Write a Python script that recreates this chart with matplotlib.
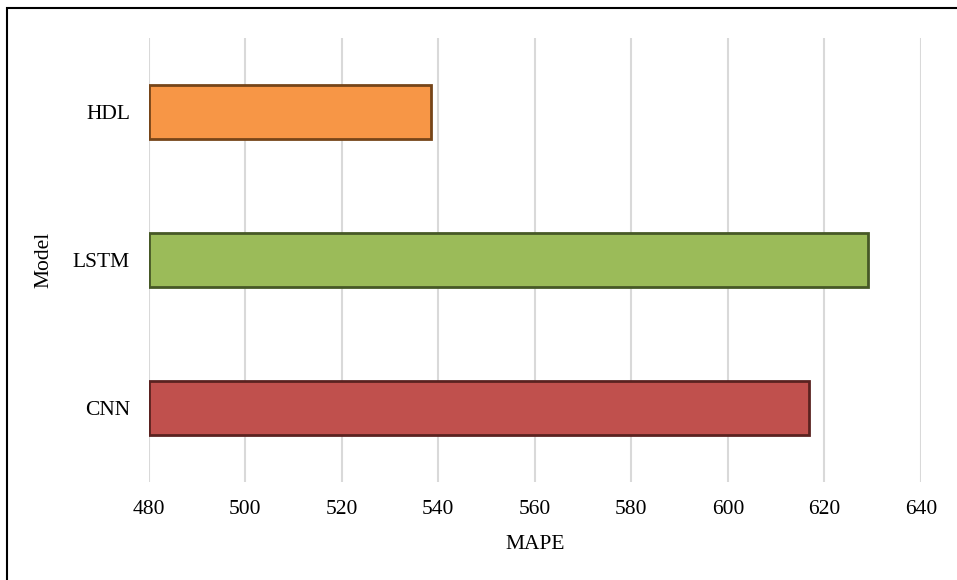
import matplotlib.pyplot as plt
from matplotlib.patches import Rectangle

models = ['CNN', 'LSTM', 'HDL']
mape = [616.9, 629.0, 538.5]
fill_colors = ['#C0504D', '#9BBB59', '#F79646']
edge_colors = ['#5A2220', '#465826', '#764519']
x_ticks = [480, 500, 520, 540, 560, 580, 600, 620, 640]

plt.rcParams['font.family'] = ['Liberation Serif', 'DejaVu Serif']

fig = plt.figure(figsize=(9.57, 5.8), dpi=100)
W, H = 957, 580
ax = fig.add_axes([148.7 / W, 1 - 482 / H, (921 - 148.7) / W, (482 - 38) / H])

ax.barh(models, [v - 480 for v in mape], left=480, height=0.36,
        color=fill_colors, edgecolor=edge_colors, linewidth=2, zorder=3)

ax.set_xlim(480, 640)
ax.set_ylim(-0.5, 2.5)
ax.set_xticks(x_ticks)
ax.grid(axis='x', color='#D9D9D9', linewidth=1.5, zorder=0)
ax.grid(axis='y', visible=False)
for s in ax.spines.values():
    s.set_visible(False)
ax.tick_params(axis='both', length=0, labelsize=15.5, pad=13)
ax.tick_params(axis='y', pad=13.5)

ax.set_xlabel('MAPE', fontsize=15.5, labelpad=11.5)
ax.set_ylabel('Model', fontsize=15.5, labelpad=14)

# thin frame around the whole chart
fig.patches.append(Rectangle((7 / W, -0.01), 1.05, 1 - 8 / H + 0.01,
                             transform=fig.transFigure, fill=False,
                             edgecolor='black', linewidth=1.5))

fig.savefig('out.png', dpi=100)
